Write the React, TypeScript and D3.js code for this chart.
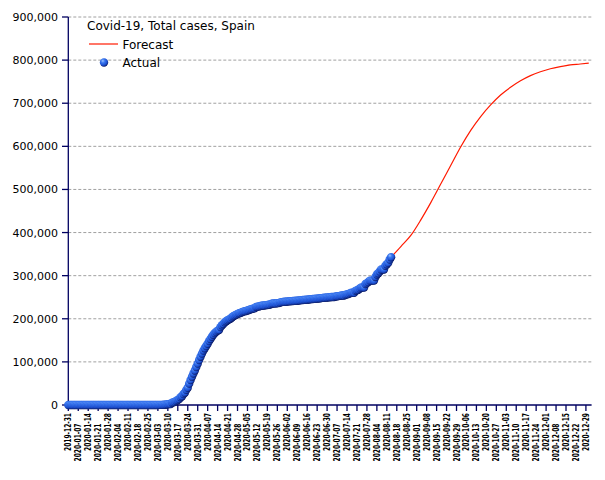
import React from "react";
import * as d3 from "d3";

// ---- Data ----
const startDate = "2019-12-31";
// Daily cumulative confirmed cases (Actual), from 2019-12-31 to 2020-08-14
const actualDec = [0];
const actualJan = [0,0,0,0,0,0,0,0,0,0,0,0,0,0,0,0,0,0,0,0,0,0,0,0,0,0,0,0,0,0,0];
const actualFeb = [1,1,1,1,1,1,1,1,1,2,2,2,2,2,2,2,2,2,2,2,2,2,2,2,6,13,15,32,45];
const actualMar = [84,120,165,222,259,400,500,673,1073,1695,2277,2277,5232,6391,7798,9942,11748,13910,17963,20410,25374,28603,35136,39885,49515,57786,65719,73235,80110,87956,95923];
const actualApr = [104118,112065,119199,126168,131646,136675,141942,148220,153222,158273,163027,166831,170099,172541,174060,180659,184948,188068,191726,194416,196664,198674,200210,202990,205905,207634,209465,210773,212917,213435];
const actualMay = [215216,216582,217466,218011,219329,220325,221447,222857,223578,224350,227436,228030,228691,229540,230183,230698,230698,231606,232037,232555,233037,234824,235290,235772,235400,236259,236259,237906,238564,239228,239479];
const actualJun = [239638,239932,240326,240660,240978,241310,241550,241717,241966,242280,242707,243209,243605,243928,244109,244328,244683,245268,245575,245938,246272,246504,246752,247086,247486,247905,248469,248770,248970,249271];
const actualJul = [249659,250103,250545,250545,250545,251789,252130,252513,253056,253908,253908,253908,255953,256619,257494,258855,260255,260255,260255,264836,266194,267551,270166,272421,272421,272421,280610,282641,285430,288522,288522];
const actualAug = [288522,288522,297054,302814,305767,309855,314362,314362,314362,322980,326612,329784,337334,342813];

// Forecast (weekly points)
const forecastDates = ["2020-08-14","2020-08-21","2020-08-28","2020-09-04","2020-09-11","2020-09-18","2020-09-25","2020-10-02","2020-10-09","2020-10-16","2020-10-23","2020-10-30","2020-11-06","2020-11-13","2020-11-20","2020-11-27","2020-12-04","2020-12-11","2020-12-18","2020-12-25","2020-12-31"];
const forecastValues = [343000,368000,394000,430000,470000,513000,556000,599000,637000,669000,696000,719000,737000,752000,764000,773000,780000,785000,789000,791000,793000];

const yTicks = [0,100000,200000,300000,400000,500000,600000,700000,800000,900000];
const xTickCount = 53; // weekly ticks from 2019-12-31 to 2020-12-29
const title = "Covid-19, Total cases, Spain";
const legendLabels = ["Forecast", "Actual"];

export default function App() {
  const width = 605, height = 480;
  const parse = d3.utcParse("%Y-%m-%d");
  const fmtDate = d3.utcFormat("%Y-%m-%d");
  const start = parse(startDate)!;
  const actualValues = [...actualDec, ...actualJan, ...actualFeb, ...actualMar, ...actualApr, ...actualMay, ...actualJun, ...actualJul, ...actualAug];
  const actual = actualValues.map((v, i) => ({ date: d3.utcDay.offset(start, i), value: v }));
  const forecast = forecastDates.map((d, i) => ({ date: parse(d)!, value: forecastValues[i] }));

  const x = d3.scaleUtc().domain([start, parse("2021-01-02")!]).range([68.3, 591.6]);
  const y = d3.scaleLinear().domain([0, 900000]).range([405, 17]);
  const xTicks = d3.range(xTickCount).map(i => d3.utcWeek.offset(start, i));
  const fmtNum = d3.format(",");

  const line = d3.line<{ date: Date; value: number }>()
    .x(d => x(d.date))
    .y(d => y(d.value))
    .curve(d3.curveMonotoneX);

  const axisColor = "#000060";
  const font = "DejaVu Sans, sans-serif";
  const redColor = "#ff1a00";

  return (
    <svg width={width} height={height} style={{ position: "absolute", left: 0, top: 0, background: "#fff" }} fontFamily={font}>
      <defs>
        <radialGradient id="ball" cx="0.4" cy="0.35" r="0.65" fx="0.35" fy="0.3">
          <stop offset="0" stopColor="#9cc2ff" />
          <stop offset="0.35" stopColor="#3a78f0" />
          <stop offset="0.75" stopColor="#1c4fd0" />
          <stop offset="1" stopColor="#0a1a66" />
        </radialGradient>
      </defs>
      <rect x={0} y={0} width={width} height={height} fill="#fff" />
      {/* gridlines */}
      {yTicks.filter(t => t > 0).map(t => (
        <line key={t} x1={x.range()[0]} x2={x.range()[1]} y1={y(t)} y2={y(t)} stroke="#a0a0a0" strokeWidth={1} strokeDasharray="3,2" />
      ))}
      {/* y axis */}
      <line x1={68.3} x2={68.3} y1={y(900000)} y2={y(0)} stroke={axisColor} strokeWidth={1.3} />
      {yTicks.map(t => (
        <g key={t}>
          <line x1={62} x2={68.3} y1={y(t)} y2={y(t)} stroke={axisColor} strokeWidth={1.3} />
          <text x={58} y={y(t)} dy="0.36em" textAnchor="end" fontSize={11} fill="#000">{fmtNum(t)}</text>
        </g>
      ))}
      {/* x axis */}
      <line x1={x.range()[0]} x2={x.range()[1]} y1={405} y2={405} stroke={axisColor} strokeWidth={1.3} />
      {xTicks.map((t, i) => (
        <g key={i}>
          <line x1={x(t)} x2={x(t)} y1={405} y2={411} stroke={axisColor} strokeWidth={1.3} />
          <text
            transform={`translate(${x(t)},${i % 2 === 0 ? 413 : 423.5}) rotate(-90)`}
            dy="0.36em"
            textAnchor="end"
            fontSize={8.3}
            fontWeight="bold"
            textLength={38}
            lengthAdjust="spacingAndGlyphs"
            fill="#000"
          >{fmtDate(t)}</text>
        </g>
      ))}
      {/* forecast line */}
      <path d={line(forecast) || ""} fill="none" stroke={redColor} strokeWidth={1.2} />
      {/* actual markers */}
      {actual.map((d, i) => (
        <circle key={i} cx={x(d.date)} cy={y(d.value)} r={4.2} fill="url(#ball)" />
      ))}
      {/* legend */}
      <text x={87} y={30} fontSize={12} fill="#000">{title}</text>
      <line x1={89} x2={118} y1={44} y2={44} stroke={redColor} strokeWidth={1.2} />
      <text x={122.5} y={48.5} fontSize={12} fill="#000">{legendLabels[0]}</text>
      <circle cx={104} cy={62.5} r={4.2} fill="url(#ball)" />
      <text x={122.5} y={66.5} fontSize={12} fill="#000">{legendLabels[1]}</text>
    </svg>
  );
}
